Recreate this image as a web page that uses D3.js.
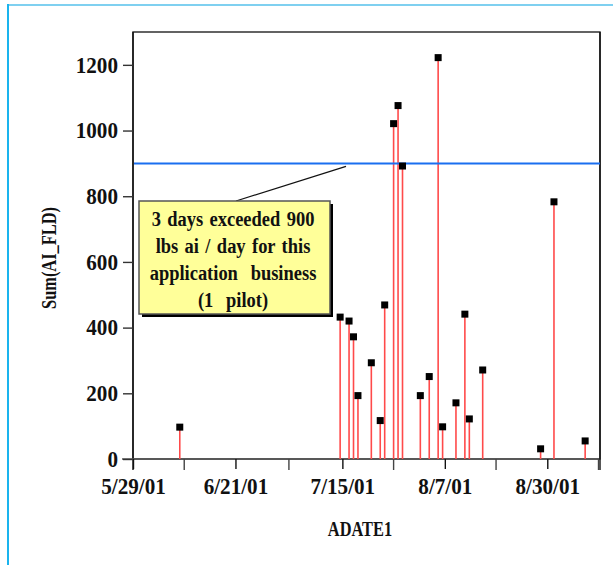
<!DOCTYPE html>
<html>
<head>
<meta charset="utf-8">
<script src="https://cdn.jsdelivr.net/npm/d3@7"></script>
<style>
  html, body { margin: 0; padding: 0; background: #fff; }
  svg { display: block; }
  .lbl { font-family: "Liberation Serif", "Times New Roman", serif; font-weight: bold; fill: #111; }
</style>
</head>
<body>
<svg id="chart" width="613" height="565"></svg>
<script>
// Daily totals of AI_FLD by application date (2001)
const dates = [
  "2001-06-08", "2001-07-14", "2001-07-16", "2001-07-17", "2001-07-18",
  "2001-07-21", "2001-07-23", "2001-07-24", "2001-07-26", "2001-07-27",
  "2001-07-28", "2001-08-01", "2001-08-03", "2001-08-05", "2001-08-06",
  "2001-08-09", "2001-08-11", "2001-08-12", "2001-08-15", "2001-08-28",
  "2001-08-31", "2001-09-07"
];
const sums = [
  97, 432, 420, 372, 193,
  293, 117, 469, 1021, 1076,
  892, 193, 251, 1222, 98,
  171, 441, 122, 271, 31,
  783, 55
];

// Axis ticks and labels
const xTickDates = ["2001-05-29", "2001-06-21", "2001-07-15", "2001-08-07", "2001-08-30"];
const xTickLabels = ["5/29/01", "6/21/01", "7/15/01", "8/7/01", "8/30/01"];
const yTicks = [0, 200, 400, 600, 800, 1000, 1200];

// Reference limit and its note
const limit = 900;
const noteLines = ["3 days exceeded 900", "lbs ai / day for this", "application  business", "(1  pilot)"];

const parse = d3.timeParse("%Y-%m-%d");
const svg = d3.select("#chart");

// Outer page border (left and top edges)
svg.append("line").attr("x1", 8).attr("y1", 5).attr("x2", 613).attr("y2", 5)
  .attr("stroke", "#7fd0f0").attr("stroke-width", 2);
svg.append("line").attr("x1", 8).attr("y1", 4).attr("x2", 8).attr("y2", 565)
  .attr("stroke", "#1ab4ee").attr("stroke-width", 2);

const L = 133, R = 600, T = 32, B = 459;
const start = parse(xTickDates[0]);
const end = d3.timeHour.offset(start, Math.round(104.85 * 24));

const x = d3.scaleTime().domain([start, end]).range([L, R]);
const y = d3.scaleLinear().domain([0, 1300]).range([B, T]);

// Plot frame
svg.append("rect").attr("x", L).attr("y", T).attr("width", R - L).attr("height", B - T)
  .attr("fill", "none").attr("stroke", "#222").attr("stroke-width", 1.4);
// axis lines run a little past the corner
svg.append("line").attr("x1", L).attr("x2", L).attr("y1", T).attr("y2", B + 11)
  .attr("stroke", "#111").attr("stroke-width", 1.4);
svg.append("line").attr("x1", L - 11).attr("x2", R).attr("y1", B).attr("y2", B)
  .attr("stroke", "#555").attr("stroke-width", 1.4);
svg.append("line").attr("x1", R).attr("x2", R).attr("y1", T).attr("y2", B + 11)
  .attr("stroke", "#111").attr("stroke-width", 1.4);

// X axis
const majorDates = xTickDates.map(parse);
const xAxis = d3.axisBottom(x)
  .tickValues(majorDates)
  .tickSize(10).tickSizeOuter(0).tickPadding(9)
  .tickFormat((d, i) => xTickLabels[i]);
const gx = svg.append("g").attr("transform", `translate(0,${B})`).call(xAxis);
gx.select(".domain").remove();
gx.selectAll(".tick line").attr("stroke", "#111").attr("stroke-width", 1.4);
// narrowed lettering; middle anchor keeps each label centred on its tick
gx.selectAll(".tick text").attr("class", "lbl").attr("font-size", 23)
  .attr("transform", "scale(0.92,1)");

// minor ticks halfway between labelled dates, plus one at the far end
const minor = majorDates.slice(0, -1).map((d, i) => (x(d) + x(majorDates[i + 1])) / 2);
minor.push(x(majorDates[majorDates.length - 1]) + (x(majorDates[1]) - x(majorDates[0])) / 2);
svg.append("g").selectAll("line").data(minor).join("line")
  .attr("x1", d => d).attr("x2", d => d).attr("y1", B).attr("y2", B + 11)
  .attr("stroke", "#444").attr("stroke-width", 1.4);

// Y axis
const yAxis = d3.axisLeft(y).tickValues(yTicks).tickFormat(d3.format("d"))
  .tickSize(10).tickSizeOuter(0).tickPadding(5);
const gy = svg.append("g").attr("transform", `translate(${L},0)`).call(yAxis);
gy.select(".domain").remove();
gy.selectAll(".tick line").attr("stroke", "#333").attr("stroke-width", 1.4);
gy.selectAll(".tick text").attr("class", "lbl").attr("font-size", 23)
  .attr("x", -15 / 0.92).attr("transform", "scale(0.92,1)");

// Axis titles (narrow lettering)
svg.append("text").attr("class", "lbl").attr("font-size", 21).attr("text-anchor", "middle")
  .attr("transform", "translate(360,536) scale(0.78,1)").text("ADATE1");
svg.append("text").attr("class", "lbl").attr("font-size", 21).attr("text-anchor", "middle")
  .attr("transform", "translate(56,258) rotate(-90) scale(0.78,1)").text("Sum(AI_FLD)");

// Needles, drawn at mid-day of each date
const pts = dates.map((d, i) => ({ t: d3.timeHour.offset(parse(d), 12), v: sums[i] }));
svg.append("g").selectAll("line").data(pts).join("line")
  .attr("x1", d => x(d.t)).attr("x2", d => x(d.t))
  .attr("y1", B).attr("y2", d => y(d.v))
  .attr("stroke", "#ff4a4a").attr("stroke-width", 1.6);

// Limit line
svg.append("line").attr("x1", L + 1).attr("x2", R).attr("y1", y(limit)).attr("y2", y(limit))
  .attr("stroke", "#1a6ff0").attr("stroke-width", 2);

// Point markers
svg.append("g").selectAll("rect").data(pts).join("rect")
  .attr("x", d => x(d.t) - 3.5).attr("y", d => y(d.v) - 3.5)
  .attr("width", 7).attr("height", 7).attr("fill", "#000");

// Callout with drop shadow and leader to the limit line
const bx = 139, by = 201, bw = 191, bh = 113;
svg.append("line").attr("x1", 236).attr("y1", by).attr("x2", 346).attr("y2", y(limit) + 3)
  .attr("stroke", "#111").attr("stroke-width", 1.2);
svg.append("rect").attr("x", bx + 3).attr("y", by + 3).attr("width", bw).attr("height", bh)
  .attr("fill", "#000");
svg.append("rect").attr("x", bx).attr("y", by).attr("width", bw).attr("height", bh)
  .attr("fill", "#ffff99").attr("stroke", "#555").attr("stroke-width", 1.5);
svg.append("text").attr("class", "lbl").attr("font-size", 21).attr("text-anchor", "middle")
  .attr("transform", "translate(233,0) scale(0.88,1)")
  .attr("xml:space", "preserve").style("white-space", "pre")
  .selectAll("tspan").data(noteLines).join("tspan")
  .attr("x", 0).attr("y", (d, i) => 226 + i * 27).attr("word-spacing", 2)
  .text(d => d);
</script>
</body>
</html>
